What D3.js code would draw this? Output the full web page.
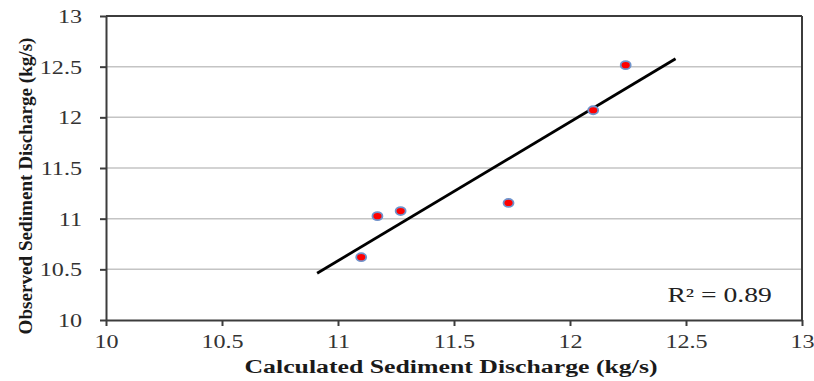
<!DOCTYPE html>
<html>
<head>
<meta charset="utf-8">
<script src="https://cdn.jsdelivr.net/npm/d3@7"></script>
<style>
  body { margin: 0; background: #fff; }
  svg { display: block; }
  text { font-family: "Liberation Serif", "Times New Roman", serif; }
</style>
</head>
<body>
<div id="chart"></div>
<script>
// data
var calculated = [11.10, 11.17, 11.27, 11.735, 12.10, 12.24];
var observed = [10.62, 11.025, 11.075, 11.155, 12.07, 12.515];
var trendRange = [10.91, 12.455];
var xTicks = [10, 10.5, 11, 11.5, 12, 12.5, 13];
var yTicks = [10, 10.5, 11, 11.5, 12, 12.5, 13];
var rSquaredLabel = "R² = 0.89";

var width = 814, height = 381;
var margin = { top: 16, right: 12, bottom: 61, left: 106 };
var w = width - margin.left - margin.right,
    h = height - margin.top - margin.bottom;

var svg = d3.select("#chart").append("svg")
    .attr("width", width).attr("height", height);

var g = svg.append("g")
    .attr("transform", "translate(" + margin.left + "," + margin.top + ")");

var x = d3.scaleLinear().domain([10, 13]).range([0, w]);
var y = d3.scaleLinear().domain([10, 13]).range([h, 0]);

// stretch text horizontally, the source image is wider than normal
function stretch(sel, k) {
    sel.each(function() {
        var len = this.getComputedTextLength();
        d3.select(this).attr("textLength", len * k).attr("lengthAdjust", "spacingAndGlyphs");
    });
}

// gridlines
g.selectAll(".grid").data(yTicks.slice(1, -1)).enter().append("line")
    .attr("x1", 0).attr("x2", w)
    .attr("y1", function(d) { return y(d); })
    .attr("y2", function(d) { return y(d); })
    .attr("stroke", "#c4c4c4").attr("stroke-width", 1.5);

// frame top and right
g.append("line").attr("x1", 0).attr("x2", w).attr("y1", 0).attr("y2", 0)
    .attr("stroke", "#3c3c3c").attr("stroke-width", 2);
g.append("line").attr("x1", w).attr("x2", w).attr("y1", 0).attr("y2", h)
    .attr("stroke", "#3c3c3c").attr("stroke-width", 2);

var xAxis = d3.axisBottom(x).tickValues(xTicks).tickSize(6).tickSizeOuter(0)
    .tickFormat(d3.format("~g"));
var yAxis = d3.axisLeft(y).tickValues(yTicks).tickSize(6).tickSizeOuter(0)
    .tickFormat(d3.format("~g"));

var gx = g.append("g").attr("transform", "translate(0," + h + ")").call(xAxis);
var gy = g.append("g").call(yAxis);

[gx, gy].forEach(function(ax) {
    ax.select(".domain").attr("stroke", "#3c3c3c").attr("stroke-width", 2);
    ax.selectAll(".tick line").attr("stroke", "#3c3c3c").attr("stroke-width", 2);
    ax.selectAll(".tick text")
        .attr("font-family", "Liberation Serif, serif")
        .attr("font-size", 19).attr("fill", "#333");
});
gx.selectAll(".tick text").attr("y", 15).attr("dy", "0.71em");
gy.selectAll(".tick text").attr("x", -24).attr("dy", "0.34em");
stretch(gx.selectAll(".tick text"), 1.27);
stretch(gy.selectAll(".tick text"), 1.27);

// trendline from least squares
var mx = d3.mean(calculated), my = d3.mean(observed);
var sxy = d3.sum(calculated, function(d, i) { return (d - mx) * (observed[i] - my); });
var sxx = d3.sum(calculated, function(d) { return (d - mx) * (d - mx); });
var slope = sxy / sxx, icpt = my - slope * mx;

g.append("line")
    .attr("x1", x(trendRange[0])).attr("y1", y(slope * trendRange[0] + icpt))
    .attr("x2", x(trendRange[1])).attr("y2", y(slope * trendRange[1] + icpt))
    .attr("stroke", "#000").attr("stroke-width", 2.8);

// points
g.selectAll(".pt").data(calculated).enter().append("ellipse")
    .attr("cx", function(d) { return x(d); })
    .attr("cy", function(d, i) { return y(observed[i]); })
    .attr("rx", 5).attr("ry", 4)
    .attr("fill", "#ff0000").attr("stroke", "#6f93cc").attr("stroke-width", 1.8);

// r squared
var rt = g.append("text").attr("x", x(12.87)).attr("y", y(10.175))
    .attr("text-anchor", "end").attr("font-size", 20).attr("fill", "#222")
    .text(rSquaredLabel);
stretch(rt, 1.38);

// axis titles
var xt = svg.append("text").attr("x", 451).attr("y", 373)
    .attr("text-anchor", "middle").attr("font-size", 18).attr("font-weight", "bold")
    .attr("fill", "#1a1a1a").text("Calculated Sediment Discharge (kg/s)");
xt.attr("textLength", 413).attr("lengthAdjust", "spacingAndGlyphs");

var yt = svg.append("text")
    .attr("transform", "translate(32,186) rotate(-90)")
    .attr("text-anchor", "middle").attr("font-size", 19).attr("font-weight", "bold")
    .attr("fill", "#1a1a1a").text("Observed Sediment Discharge (kg/s)");
yt.attr("textLength", 297).attr("lengthAdjust", "spacingAndGlyphs");
</script>
</body>
</html>
